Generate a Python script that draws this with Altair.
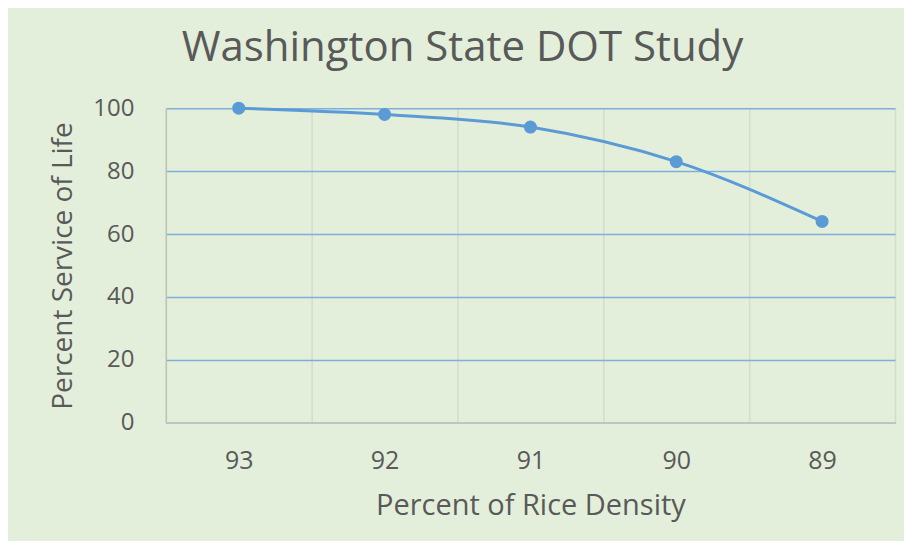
import altair as alt
import pandas as pd

density = ["93", "92", "91", "90", "89"]
service_life = [100, 98, 94, 83, 64]

df = pd.DataFrame({"density": density, "life": service_life})

FONT = "Open Sans"
TEXT = "#595959"
BLUE = "#5b9bd5"

x = alt.X(
    "density:O",
    sort=density,
    bandPosition=0.5,
    scale=alt.Scale(type="band", paddingInner=0, paddingOuter=0),
    axis=alt.Axis(
        title="Percent of Rice Density",
        labelAngle=0,
        grid=True,
        tickBand="extent",
        gridColor="#d3dccd",
        gridWidth=1.5,
        ticks=False,
        domainColor="#bfc4bb",
        domainWidth=1.5,
        labelFont=FONT,
        labelFontSize=25,
        labelColor=TEXT,
        labelPadding=26,
        titleFont=FONT,
        titleFontSize=29,
        titleFontWeight="normal",
        titleColor=TEXT,
        titlePadding=18,
    ),
)
y = alt.Y(
    "life:Q",
    scale=alt.Scale(domain=[0, 100]),
    axis=alt.Axis(
        title="Percent Service of Life",
        values=[0, 20, 40, 60, 80, 100],
        grid=True,
        gridColor="#7eaedb",
        gridWidth=1.5,
        ticks=False,
        domainColor="#bfc4bb",
        domainWidth=1.5,
        labelFont=FONT,
        labelFontSize=24,
        labelColor=TEXT,
        labelPadding=32,
        titleFont=FONT,
        titleFontSize=28,
        titleFontWeight="normal",
        titleColor=TEXT,
        titlePadding=15,
    ),
)

line = alt.Chart(df).mark_line(
    color=BLUE, strokeWidth=3, interpolate="monotone"
).encode(x=x, y=y)
pts = alt.Chart(df).mark_point(
    color=BLUE, filled=True, opacity=1, size=170
).encode(x=x, y=y)

chart = (
    alt.layer(line, pts)
    .properties(
        width=730,
        height=315,
        background="#e3efda",
        padding={"left": 158, "top": 100, "right": 9, "bottom": 118},
        autosize=alt.AutoSizeParams(type="none"),
        title=alt.TitleParams(
            "Washington State DOT Study",
            font=FONT,
            fontSize=42,
            fontWeight="normal",
            color=TEXT,
            anchor="middle",
            dx=-68,
            offset=26,
        ),
    )
    .configure_view(stroke=None)
)

chart.save("out.html", embed_options={"renderer": "svg", "actions": False})
